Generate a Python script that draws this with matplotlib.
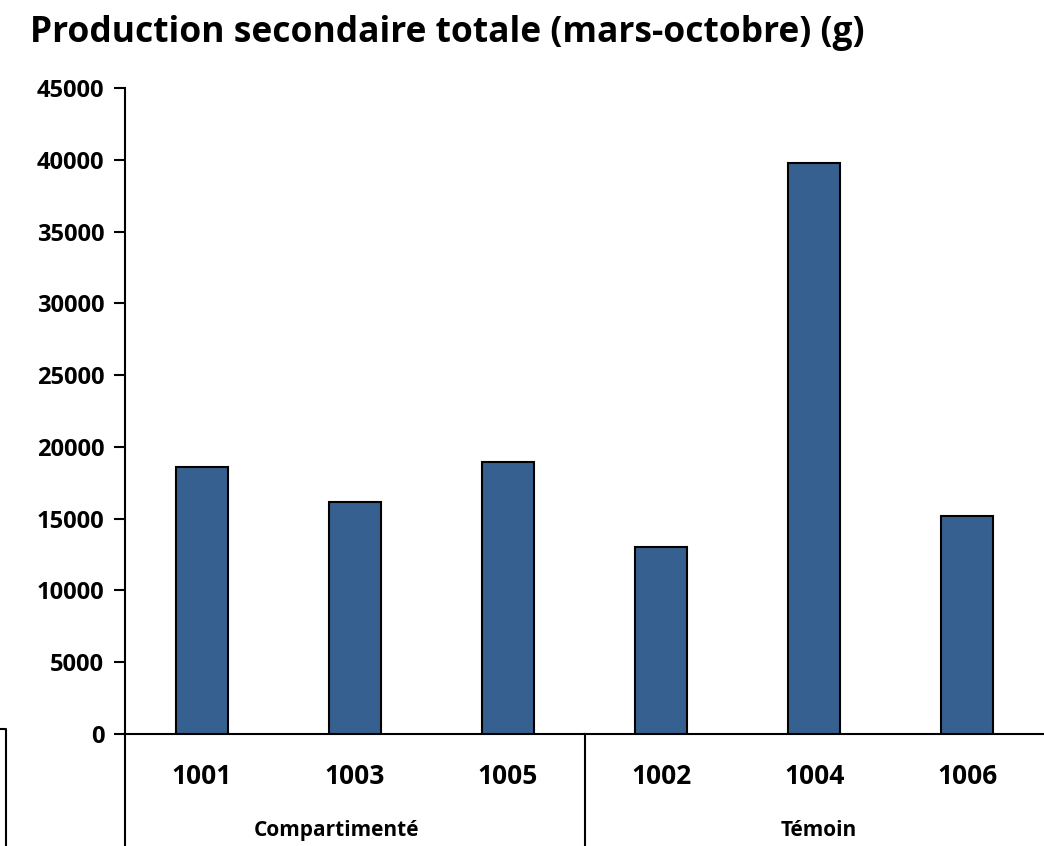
import matplotlib
matplotlib.use("Agg")
import matplotlib.pyplot as plt
from matplotlib.lines import Line2D

plt.rcParams["font.family"] = ["Open Sans", "DejaVu Sans"]

# data
categories = ["1001", "1003", "1005", "1002", "1004", "1006"]
values = [18600, 16150, 18950, 13030, 39800, 15200]
groups = ["Compartimenté", "Témoin"]
yticks = list(range(0, 45001, 5000))

W, H = 1044, 846
fig = plt.figure(figsize=(W / 100, H / 100), dpi=100)
ax = fig.add_axes([125 / W, (H - 734) / H, (W - 125) / W, (734 - 88) / H])

x = range(len(categories))
ax.bar(x, values, width=0.34, color="#36608F", edgecolor="black", linewidth=1.5, zorder=3)

ax.set_xlim(-0.5, len(categories) - 0.5)
ax.set_ylim(0, 45000)
ax.set_yticks(yticks)
ax.set_yticklabels([str(v) for v in yticks], fontsize=17, fontweight="bold")
ax.tick_params(axis="y", length=8, width=1.5, pad=7)
ax.set_xticks(list(x))
ax.set_xticklabels(categories, fontsize=19, fontweight="bold")
ax.tick_params(axis="x", length=0, pad=21)

for s in ["top", "right"]:
    ax.spines[s].set_visible(False)
ax.spines["left"].set_linewidth(1.5)
ax.spines["bottom"].set_linewidth(1.5)

# group separators below the axis
below = -(H - 734) / 646
trans = ax.get_xaxis_transform()
label_x = [0.884, 4.03]
for sep in [-0.5, 2.5]:
    ax.add_line(Line2D([sep, sep], [0, below], transform=trans, color="black",
                       linewidth=1.5, clip_on=False))
for name, lx in zip(groups, label_x):
    ax.text(lx, -96 / 646, name, transform=trans, ha="center", va="center",
            fontsize=15, fontweight="bold")

# stray border at the far left
fig.add_artist(Line2D([0, 6 / W, 6 / W], [(H - 729) / H] * 2 + [0], color="black", linewidth=1.5))

fig.text(30 / W, 1 - 33 / H, "Production secondaire totale (mars-octobre) (g)",
         fontsize=25.5, fontweight="bold", ha="left", va="center")

fig.savefig("out.png", dpi=100)
